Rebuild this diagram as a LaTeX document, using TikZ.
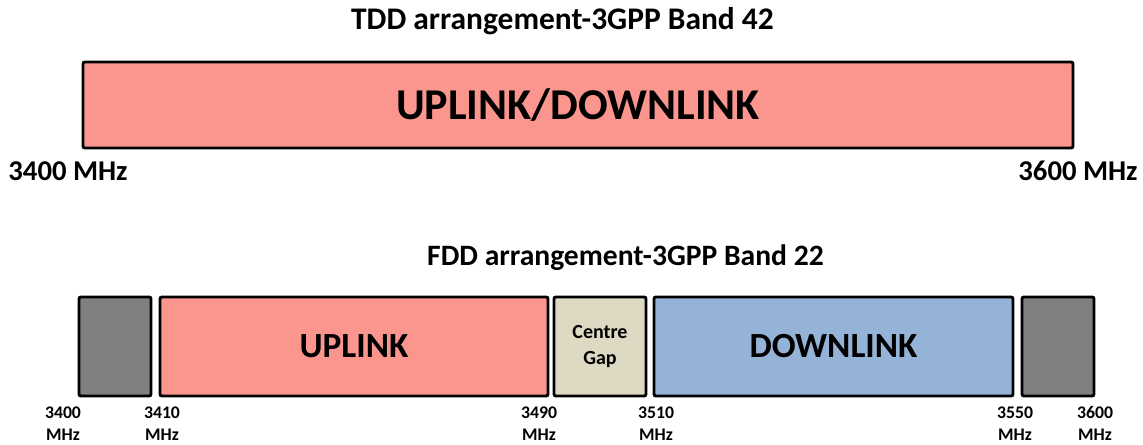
\documentclass[tikz,border=0pt]{standalone}
\usepackage{fontspec}
\setmainfont{Carlito}
\definecolor{bandpink}{HTML}{FA968D}
\definecolor{bandblue}{HTML}{95B3D7}
\definecolor{bandgray}{HTML}{808080}
\definecolor{bandtan}{HTML}{DDD9C3}
\tikzset{
  band/.style={draw=black, line width=2.2pt, rounded corners=1.5pt, inner sep=0pt, minimum height=74.25pt, font=\bfseries\fontsize{26.5}{30}\selectfont},
  title/.style={font=\bfseries\fontsize{22}{26}\selectfont, inner sep=0pt},
  bigfreq/.style={font=\bfseries\fontsize{21.5}{25}\selectfont, inner sep=0pt},
  freq/.style={font=\bfseries\fontsize{13.3}{16.5}\selectfont, align=center, inner sep=0pt, anchor=north}
}
\begin{document}
\begin{tikzpicture}[x=0.75pt, y=-0.75pt]
\useasboundingbox (0,0) rectangle (1143,445);
% top
\node[title, font=\bfseries\fontsize{23.6}{28}\selectfont] (t1) at (562.5,21) {TDD arrangement-3GPP Band 42};
\node[band, fill=bandpink, minimum width=742.5pt, minimum height=64.5pt, font=\bfseries\fontsize{33}{38}\selectfont] (ud) at (578,105) {UPLINK/DOWNLINK};
\node[bigfreq] (f1) at (68,171) {3400 MHz};
\node[bigfreq] (f2) at (1078,171) {3600 MHz};
% bottom
\node[title, font=\bfseries\fontsize{22.2}{26}\selectfont] (t2) at (625.5,258) {FDD arrangement-3GPP Band 22};
\node[band, fill=bandgray, minimum width=54pt] (g1) at (115,346.5) {};
\node[band, fill=bandpink, minimum width=291pt] (ul) at (354,346.5) {UPLINK};
\node[band, fill=bandtan, minimum width=69pt, align=center, font=\bfseries\fontsize{15}{19}\selectfont] (cg) at (600,346.5) {Centre\\Gap};
\node[band, fill=bandblue, minimum width=269.25pt] (dl) at (833.5,346.5) {DOWNLINK};
\node[band, fill=bandgray, minimum width=54pt] (g2) at (1058,346.5) {};
\node[freq] (l1) at (63,406.5) {3400\\MHz};
\node[freq] (l2) at (162,406.5) {3410\\MHz};
\node[freq] (l3) at (539,406.5) {3490\\MHz};
\node[freq] (l4) at (656,406.5) {3510\\MHz};
\node[freq] (l5) at (1015,406.5) {3550\\MHz};
\node[freq] (l6) at (1095,406.5) {3600\\MHz};
\end{tikzpicture}
\end{document}
